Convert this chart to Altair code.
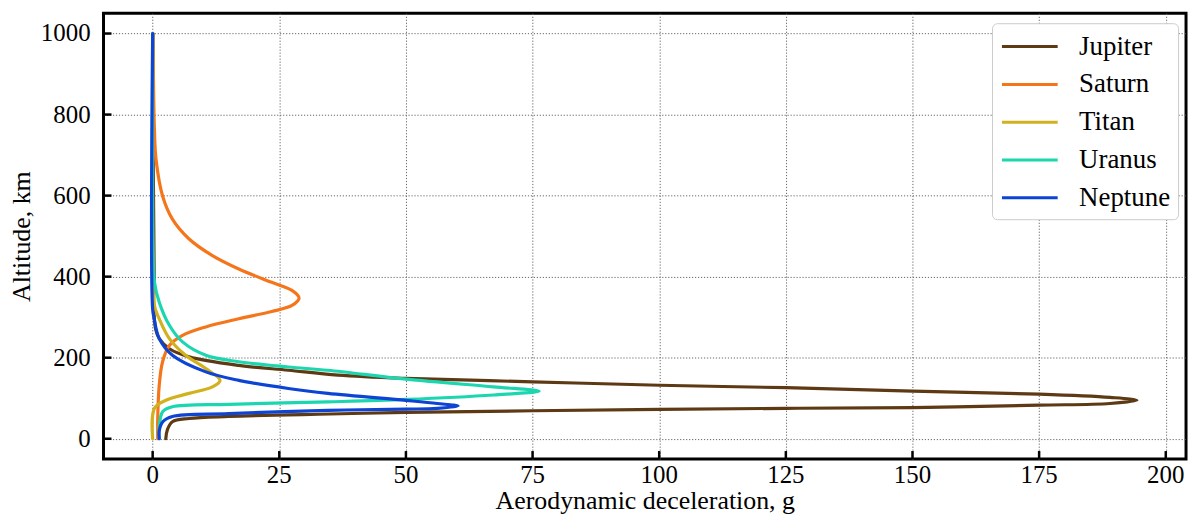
import altair as alt
import pandas as pd

# ---- data (deceleration in g, altitude in km) ----
planets = ["Jupiter", "Saturn", "Titan", "Uranus", "Neptune"]
colors = ["#5e3a14", "#f5761a", "#d1b21e", "#1cd6b0", "#0e44d4"]

jupiter_alt = [1000, 700, 400, 330, 270, 247, 222, 202, 181, 169, 157, 149, 140.5, 132, 126, 117.5, 110, 102, 95,
               87, 83, 77, 75, 72.5, 69, 65, 61, 55, 50, 42, 22, 0]
jupiter_g = [0.05, 0.1, 0.3, 0.2, 0.6, 1.3, 3.3, 7.2, 17, 26.8, 36.6, 50, 75, 100, 125, 150, 175, 189, 194.3,
             189, 175, 150, 125, 100, 75, 50, 35, 15, 7.2, 3.9, 2.9, 2.6]

saturn_alt = [1000, 850, 763, 689, 599, 542, 493, 452, 419, 386, 366, 347, 329, 314, 296, 276, 255, 230, 190, 132, 50, 0]
saturn_g = [0.05, 0.2, 0.35, 0.67, 1.96, 3.9, 7.2, 11.8, 17, 23.5, 27.5, 28.9, 27.5, 23.5, 17, 10.5, 5.9, 3.3, 1.96,
            1.3, 1.0, 1.0]

titan_alt = [1000, 450, 329, 296, 247, 206, 173, 144, 128, 112, 95, 75, 0]
titan_g = [0.0, 0.05, 0.35, 1.3, 3.3, 6.5, 10.5, 13.3, 11.8, 7.2, 2.6, 0.35, 0.0]

uranus_alt = [1000, 450, 387, 337, 280, 239, 206, 190, 177, 169, 147, 128, 117.5, 108, 97, 91, 85, 79, 67, 30, 0]
uranus_g = [0.0, 0.1, 0.35, 1.3, 3.3, 5.9, 10.5, 17, 26.8, 34.6, 50, 67.3, 76.3, 67.3, 50, 34.6, 15, 3.9, 2.0,
            1.3, 1.3]

neptune_alt = [1000, 320, 296, 247, 206, 165, 144, 124, 112, 94.6, 87, 80.6, 75, 73, 70, 62, 55, 42, 20, 0]
neptune_g = [0.0, 0.0, 0.3, 1.3, 3.9, 10.5, 17, 26.8, 34.6, 50, 56.2, 60.3, 56.2, 50, 34.6, 15, 3.9, 2.0, 1.3, 1.3]

x_ticks = [0, 25, 50, 75, 100, 125, 150, 175, 200]
y_ticks = [0, 200, 400, 600, 800, 1000]

# ---- build table ----
series = {
    "Jupiter": (jupiter_g, jupiter_alt),
    "Saturn": (saturn_g, saturn_alt),
    "Titan": (titan_g, titan_alt),
    "Uranus": (uranus_g, uranus_alt),
    "Neptune": (neptune_g, neptune_alt),
}
rows = []
for p in planets:
    gs, alts = series[p]
    for i, (g, a) in enumerate(zip(gs, alts)):
        rows.append({"planet": p, "g": g, "alt": a, "i": i})
df = pd.DataFrame(rows)
xt = pd.DataFrame({"v": x_ticks})
yt = pd.DataFrame({"v": y_ticks})

W, H = 1088, 448
FONT = "Liberation Serif"

common_axis = dict(
    grid=True, gridColor="#666666", gridDash=[1.2, 1.8], gridWidth=1, gridOpacity=1,
    domain=False, ticks=False, tickSize=0, labels=False,
    titleFont=FONT, titleFontSize=26, titleFontWeight="normal", titleColor="black",
    titleBaseline="alphabetic",
)

xscale = alt.Scale(domain=[-9.7, 204.0], nice=False, zero=False)
yscale = alt.Scale(domain=[-50, 1050], nice=False, zero=False)
xaxis = alt.Axis(values=x_ticks, title="Aerodynamic deceleration, g", titleY=50, **common_axis)
yaxis = alt.Axis(values=y_ticks, title="Altitude, km", titleX=-74, **common_axis)

lines = alt.Chart(df).mark_line(strokeWidth=3.2, strokeCap="round", strokeJoin="round",
                                interpolate="catmull-rom").encode(
    x=alt.X("g:Q", scale=xscale, axis=xaxis),
    y=alt.Y("alt:Q", scale=yscale, axis=yaxis),
    color=alt.Color(
        "planet:N",
        scale=alt.Scale(domain=planets, range=colors),
        sort=planets,
        legend=alt.Legend(
            title=None, orient="none", legendX=893, legendY=10,
            symbolType="M0,0H4", symbolSize=784, symbolStrokeWidth=3, symbolOffset=-13.5,
            labelFont=FONT, labelFontSize=27, labelColor="black", labelOffset=62,
            rowPadding=9, padding=8, fillColor="white", strokeColor="#cccccc",
            cornerRadius=5,
        ),
    ),
    detail="planet:N",
    order=alt.Order("i:Q"),
)

# inward tick marks
yticks = alt.Chart(yt).mark_rule(color="black", strokeWidth=2.5).encode(
    y=alt.Y("v:Q", scale=yscale, axis=yaxis),
    x=alt.value(0), x2=alt.value(8),
)
xticks = alt.Chart(xt).mark_rule(color="black", strokeWidth=2.5).encode(
    x=alt.X("v:Q", scale=xscale, axis=xaxis),
    y=alt.value(H), y2=alt.value(H - 8),
)

# tick labels
ylabels = alt.Chart(yt).mark_text(font=FONT, fontSize=25, color="black", align="right",
                                  baseline="middle").encode(
    y=alt.Y("v:Q", scale=yscale, axis=yaxis),
    x=alt.value(-13),
    text=alt.Text("v:Q", format="d"),
)
xlabels = alt.Chart(xt).mark_text(font=FONT, fontSize=25, color="black", align="center",
                                  baseline="top").encode(
    x=alt.X("v:Q", scale=xscale, axis=xaxis),
    y=alt.value(H + 4),
    text=alt.Text("v:Q", format="d"),
)

chart = alt.layer(lines, yticks, xticks, ylabels, xlabels).properties(
    width=W, height=H,
    autosize=alt.AutoSizeParams(type="none"),
    padding={"left": 96, "top": 4, "right": 5, "bottom": 56},
).configure(
    view=alt.ViewConfig(stroke="black", strokeWidth=3),
)

chart.save("out.html", embed_options={"renderer": "svg", "actions": False})
